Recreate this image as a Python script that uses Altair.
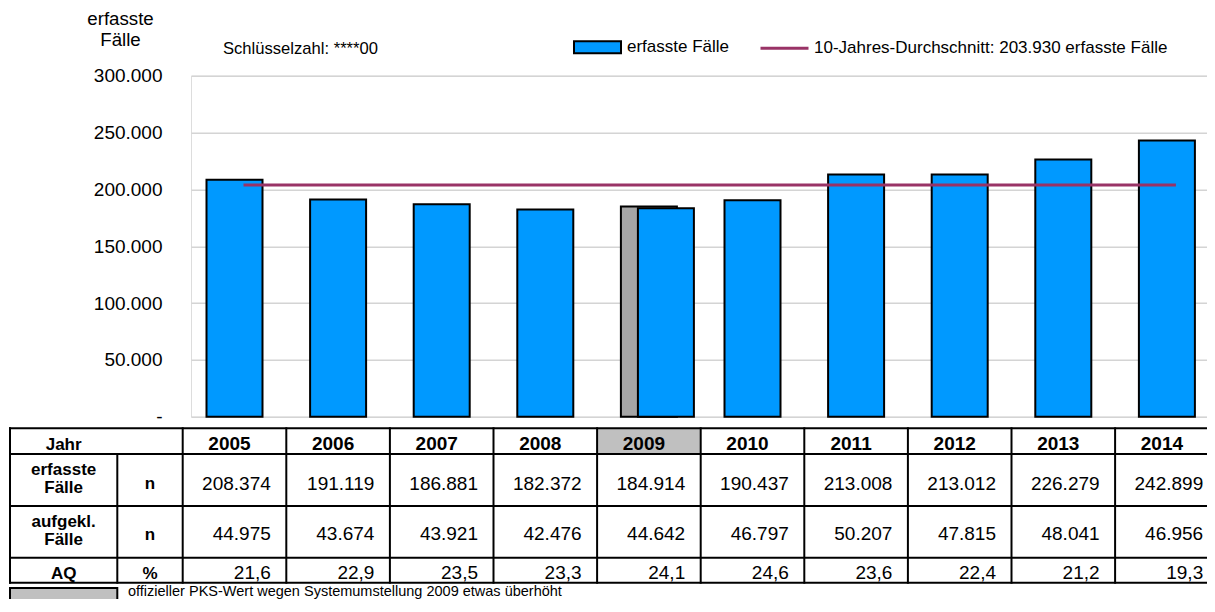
import altair as alt
import pandas as pd

# ---------------- data ----------------
years = [2005, 2006, 2007, 2008, 2009, 2010, 2011, 2012, 2013, 2014]
erfasste_faelle = [208374, 191119, 186881, 182372, 184914, 190437, 213008, 213012, 226279, 242899]
aufgeklaerte_faelle = [44975, 43674, 43921, 42476, 44642, 46797, 50207, 47815, 48041, 46956]
aufklaerungsquote = [21.6, 22.9, 23.5, 23.3, 24.1, 24.6, 23.6, 22.4, 21.2, 19.3]
balken_werte = [208374, 191119, 186881, 182372, 183400, 190437, 213008, 213012, 226279, 242899]
sonderjahr = 2009
offizieller_wert_2009 = 184914
durchschnitt_10j = 203930
y_ticks = [0, 50000, 100000, 150000, 200000, 250000, 300000]

bar_label = "erfasste Fälle"
avg_label = "10-Jahres-Durchschnitt: " + f"{durchschnitt_10j:,}".replace(",", ".") + " erfasste Fälle"
schluessel = "Schlüsselzahl: ****00"
fussnote = "offizieller PKS-Wert wegen Systemumstellung 2009 etwas überhöht"

FONT = "Liberation Sans"
BLUE = "#0099FF"
GRAY_BAR = "#A6A6A6"
GRAY_CELL = "#C0C0C0"
PURPLE = "#993366"

# ---------------- layout ----------------
PX_PER_YEAR = 103.6
TOTAL_W, TOTAL_H = 1199, 591
PAD_L, PAD_T = 183, 67.7
VIEW_W, VIEW_H = TOTAL_W - PAD_L, 341
X_MIN = years[0] - 0.5 + 8.3 / PX_PER_YEAR
X_MAX = X_MIN + VIEW_W / PX_PER_YEAR
xscale = alt.Scale(domain=[X_MIN, X_MAX], nice=False, zero=False, padding=0)
yscale = alt.Scale(domain=[0, 300000], nice=False, zero=True, padding=0)

x_left = years[0] - 0.5 - 172.7 / PX_PER_YEAR
x_sep = years[0] - 0.5 - 65.4 / PX_PER_YEAR
x_first = years[0] - 0.5
x_right = years[-1] + 0.5
TABLE_TOP = 352.6
tscale = alt.Scale(domain=[0, 200], range=[TABLE_TOP, TABLE_TOP + 200], nice=False, zero=False, padding=0)
row_edges = [0, 25.7, 77.7, 129.4, 154.4]


def X(f, **kw):
    return alt.X(f, type="quantitative", scale=xscale, axis=None, **kw)


def TY(f):
    return alt.Y(f, type="quantitative", scale=tscale, axis=None)


# ---------------- bar part ----------------
bars_df = pd.DataFrame({"year": years, "value": balken_werte, "serie": bar_label})
gray_df = pd.DataFrame({"year": [sonderjahr], "value": [offizieller_wert_2009]})
line_df = pd.DataFrame({"year": years, "avg": durchschnitt_10j, "serie": avg_label})

yaxis = alt.Axis(
    values=y_ticks, format=",d", labelExpr="datum.value == 0 ? '-' : datum.label",
    domain=False, ticks=False, tickSize=0, labelPadding=29,
    labelFont=FONT, labelFontSize=19, labelColor="black",
    grid=True, gridColor="#D4D4D4", gridWidth=1.5,
    title=["erfasste", "Fälle"], titleAngle=0, titleAlign="center", titleBaseline="alphabetic",
    titleX=-71, titleY=-51, titleFont=FONT, titleFontSize=18.7, titleFontWeight="normal",
    titleColor="black", titleLineHeight=21,
)

gray = alt.Chart(gray_df).mark_bar(width=56, fill=GRAY_BAR, stroke="black", strokeWidth=2).encode(
    x=X("year"), y=alt.Y("value:Q", scale=yscale, axis=yaxis)
)

fill_enc = alt.Fill(
    "serie:N", scale=alt.Scale(domain=[bar_label], range=[BLUE]),
    legend=alt.Legend(
        orient="none", legendX=382, legendY=-53, title=None, padding=0, offset=0,
        symbolType="M-1,-0.255H1V0.255H-1Z", symbolSize=2209, symbolStrokeColor="black",
        symbolStrokeWidth=2, symbolOpacity=1, labelFont=FONT, labelFontSize=17, labelColor="black",
        labelOffset=5, labelLimit=0,
    ),
)

blue = alt.Chart(bars_df).mark_bar(width=56, stroke="black", strokeWidth=2).encode(
    x=X("year"), y=alt.Y("value:Q", scale=yscale), fill=fill_enc
).transform_filter(alt.datum.year != sonderjahr)

blue09 = alt.Chart(bars_df).mark_bar(width=56, stroke="black", strokeWidth=2, xOffset=17).encode(
    x=X("year"), y=alt.Y("value:Q", scale=yscale), fill=alt.Fill("serie:N")
).transform_filter(alt.datum.year == sonderjahr)

line = alt.Chart(line_df).mark_line(strokeWidth=3, xOffset=9).encode(
    x=X("year"), y=alt.Y("avg:Q", scale=yscale),
    stroke=alt.Stroke(
        "serie:N", scale=alt.Scale(domain=[avg_label], range=[PURPLE]),
        legend=alt.Legend(
            orient="none", legendX=568, legendY=-53, title=None, padding=0, offset=0,
            symbolType="stroke", symbolSize=2304, symbolStrokeWidth=3,
            labelFont=FONT, labelFontSize=17, labelColor="black", labelOffset=4, labelLimit=0,
        ),
    ),
)

bar_part = alt.layer(gray, blue, blue09, line)

# ---------------- table part ----------------
cell_df = pd.DataFrame({"x": [sonderjahr - 0.5], "x2": [sonderjahr + 0.5], "y": [row_edges[0]], "y2": [row_edges[1]]})
cell = alt.Chart(cell_df).mark_rect(fill=GRAY_CELL).encode(x=X("x"), x2="x2", y=TY("y"), y2="y2")

h_df = pd.DataFrame({"x": x_left, "x2": x_right + 0.1, "y": row_edges})
h_rules = alt.Chart(h_df).mark_rule(color="black", strokeWidth=2, strokeCap="square").encode(
    x=X("x"), x2="x2", y=TY("y")
)
v_x = [x_left] + [y - 0.5 for y in years] + [x_right]
v_df = pd.DataFrame({"x": v_x + [x_sep], "y": [row_edges[0]] * len(v_x) + [row_edges[1]], "y2": row_edges[-1]})
v_rules = alt.Chart(v_df).mark_rule(color="black", strokeWidth=2, strokeCap="square").encode(
    x=X("x"), y=TY("y"), y2="y2"
)

head_df = pd.DataFrame({"year": years, "ty": 21.7})
head_txt = alt.Chart(head_df).mark_text(
    font=FONT, fontSize=19, fontWeight="bold", align="center", baseline="alphabetic", dx=-5, color="black"
).encode(x=X("year"), y=TY("ty"), text=alt.Text("year:Q", format="d"))

val_df = pd.DataFrame({"xr": [y + 0.5 for y in years], "erf": erfasste_faelle, "auf": aufgeklaerte_faelle, "aq": aufklaerungsquote})
val_style = dict(font=FONT, fontSize=19, align="right", baseline="alphabetic", dx=-15.5, color="black")
erf_txt = alt.Chart(val_df).mark_text(**val_style).encode(x=X("xr"), y=alt.value(TABLE_TOP + 61.7), text=alt.Text("erf:Q", format=",d"))
auf_txt = alt.Chart(val_df).mark_text(**val_style).encode(x=X("xr"), y=alt.value(TABLE_TOP + 111.7), text=alt.Text("auf:Q", format=",d"))
aq_txt = alt.Chart(val_df).mark_text(**val_style).encode(x=X("xr"), y=alt.value(TABLE_TOP + 150.5), text=alt.Text("aq:Q", format=".1f"))

c1 = (x_left + x_sep) / 2
c2 = (x_sep + x_first) / 2
lab_df = pd.DataFrame({
    "label": ["Jahr", "erfasste\nFälle", "aufgekl.\nFälle", "AQ", "n", "n", "%"],
    "x": [c1, c1, c1, c1, c2, c2, c2],
    "ty": [21.7, 46.2, 98.2, 150.5, 60.7, 111.7, 150.5],
})
lab_txt = alt.Chart(lab_df).mark_text(
    font=FONT, fontSize=17, fontWeight="bold", align="center", baseline="alphabetic",
    lineBreak="\n", lineHeight=18, color="black"
).encode(x=X("x"), y=TY("ty"), text="label:N")

note_df = pd.DataFrame({"x": [x_left], "x2": [x_sep], "y": [159.7], "y2": [190], "text": [fussnote], "ty": [167.7]})
note_box = alt.Chart(note_df).mark_rect(fill=GRAY_CELL, stroke="black", strokeWidth=2).encode(
    x=X("x"), x2="x2", y=TY("y"), y2="y2"
)
note_txt = alt.Chart(note_df).mark_text(
    font=FONT, fontSize=14.5, align="left", baseline="alphabetic", dx=10.7, color="black"
).encode(x=X("x2"), y=TY("ty"), text="text:N")

key_df = pd.DataFrame({"x": [X_MIN + 32 / PX_PER_YEAR], "text": [schluessel]})
key_txt = alt.Chart(key_df).mark_text(
    font=FONT, fontSize=16.6, align="left", baseline="alphabetic", color="black"
).encode(x=X("x"), y=alt.value(54 - 75.7), text="text:N")

table_part = alt.layer(cell, h_rules, v_rules, head_txt, erf_txt, auf_txt, aq_txt, lab_txt, note_box, note_txt, key_txt)

chart = alt.layer(bar_part, table_part).resolve_scale(y="independent").properties(
    width=VIEW_W, height=VIEW_H,
    autosize=alt.AutoSizeParams(type="none"),
    padding={"left": PAD_L, "top": PAD_T, "right": 0, "bottom": TOTAL_H - PAD_T - VIEW_H},
    background="white",
).configure_view(stroke=None).configure(
    locale={"number": {"decimal": ",", "thousands": ".", "grouping": [3], "currency": ["", " €"]}}
)

chart.save("out.html", embed_options={"renderer": "svg", "actions": False})
